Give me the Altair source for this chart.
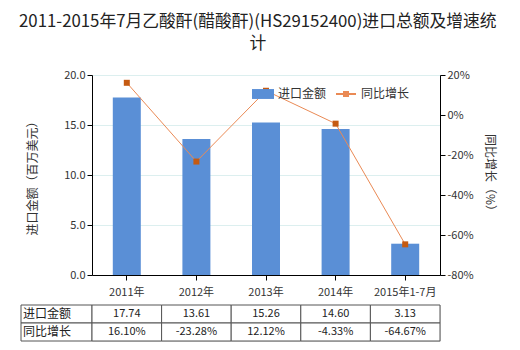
import altair as alt
import pandas as pd

categories = ["2011年", "2012年", "2013年", "2014年", "2015年1-7月"]
amounts = [17.74, 13.61, 15.26, 14.60, 3.13]
growth = [16.10, -23.28, 12.12, -4.33, -64.67]
row_names = ["进口金额", "同比增长"]

FONT = "Noto Sans CJK SC"
BLUE = "#5a8fd6"
LINE = "#ea8a55"
MARK = "#c55a11"

df = pd.DataFrame({"cat": categories, "amount": amounts, "growth": growth})

xenc = alt.X("cat:N", sort=categories, title=None,
             scale=alt.Scale(paddingInner=0, paddingOuter=0),
             axis=alt.Axis(labelAngle=0, labelFontSize=11, labelColor="#333",
                           domainColor="#000", tickColor="#000", tickSize=5,
                           labelPadding=6, labelFont=FONT))

bars = alt.Chart(df).mark_bar(size=28).encode(
    x=xenc,
    y=alt.Y("amount:Q", title="进口金额（百万美元）",
            scale=alt.Scale(domain=[0, 20]),
            axis=alt.Axis(values=[0, 5, 10, 15, 20], format=".1f",
                          labelFontSize=11, labelColor="#333", labelFont=FONT,
                          domainColor="#000", tickColor="#000", tickSize=5,
                          gridColor="#dcefef", titleFont=FONT, titleFontSize=12,
                          titleFontWeight="normal", titleColor="#333",
                          titlePadding=24)),
    fill=alt.Fill("s:N", scale=alt.Scale(domain=["进口金额"], range=[BLUE]),
                  legend=alt.Legend(title=None, orient="none", legendX=160, legendY=8,
                                    symbolType="M-1,-0.45H1V0.45H-1Z", symbolSize=484,
                                    symbolStrokeWidth=0, labelFont=FONT,
                                    labelFontSize=12, labelColor="#333")),
).transform_calculate(s="'进口金额'")

yline = alt.Y("growth:Q", title="同比增长（%）",
              scale=alt.Scale(domain=[-80, 20]),
              axis=alt.Axis(orient="right", values=[-80, -60, -40, -20, 0, 20],
                            labelExpr="datum.value + '%'", grid=False,
                            labelFontSize=11, labelColor="#333", labelFont=FONT,
                            domainColor="#000", tickColor="#000", tickSize=5,
                            titleFont=FONT, titleFontSize=12, titleFontWeight="normal",
                            titleColor="#333", titleAngle=90, titlePadding=9))

line = alt.Chart(df).mark_line(strokeWidth=1).encode(
    x=alt.X("cat:N", sort=categories),
    y=yline,
    stroke=alt.Stroke("t:N", scale=alt.Scale(domain=["同比增长"], range=[LINE]),
                      legend=alt.Legend(title=None, orient="none", legendX=243, legendY=8,
                                        symbolType="M-1,0H1M-0.2,-0.2H0.2V0.2H-0.2Z",
                                        symbolSize=400, symbolStrokeWidth=2,
                                        symbolFillColor=MARK, labelFont=FONT,
                                        labelFontSize=12, labelColor="#333")),
).transform_calculate(t="'同比增长'")

pts = alt.Chart(df).mark_square(size=36, color=MARK, opacity=1).encode(
    x=alt.X("cat:N", sort=categories),
    y=yline,
)

top = alt.layer(bars, alt.layer(line, pts)).resolve_scale(y="independent").properties(
    width=348, height=200)

# table
rows = []
for c, a, g in zip(categories, amounts, growth):
    rows.append({"cat": c, "row": row_names[0], "txt": f"{a:.2f}"})
    rows.append({"cat": c, "row": row_names[1], "txt": f"{g:.2f}%"})
tdf = pd.DataFrame(rows)
ldf = pd.DataFrame({"row": row_names})

tx = alt.X("cat:N", sort=categories, axis=None,
           scale=alt.Scale(paddingInner=0, paddingOuter=0))
ty = alt.Y("row:N", sort=row_names, axis=None,
           scale=alt.Scale(paddingInner=0, paddingOuter=0))

cells = alt.Chart(tdf).mark_rect(fill="white", stroke="#555", strokeWidth=1).encode(x=tx, y=ty)
ctext = alt.Chart(tdf).mark_text(font=FONT, fontSize=11, color="#222").encode(
    x=tx, y=ty, text="txt:N")
lcells = alt.Chart(ldf).mark_rect(fill="white", stroke="#555", strokeWidth=1).encode(
    x=alt.value(-71), x2=alt.value(0), y=ty)
ltext = alt.Chart(ldf).mark_text(font=FONT, fontSize=12, color="#222", align="left").encode(
    x=alt.value(-69), y=ty, text="row:N")

table = alt.layer(lcells, cells, ltext, ctext).properties(width=348, height=36)

chart = alt.vconcat(top, table, spacing=6).resolve_scale(x="independent").properties(
    title=alt.Title(["2011-2015年7月乙酸酐(醋酸酐)(HS29152400)进口总额及增速统", "计"],
                    font=FONT, fontSize=16.8, fontWeight="normal", color="#222",
                    anchor="middle", lineHeight=22, offset=16),
    padding={"left": 19, "top": 13, "right": 5, "bottom": 5},
).configure_view(stroke=None).configure(background="white")

chart.save("out.html", embed_options={"renderer": "svg", "actions": False})
